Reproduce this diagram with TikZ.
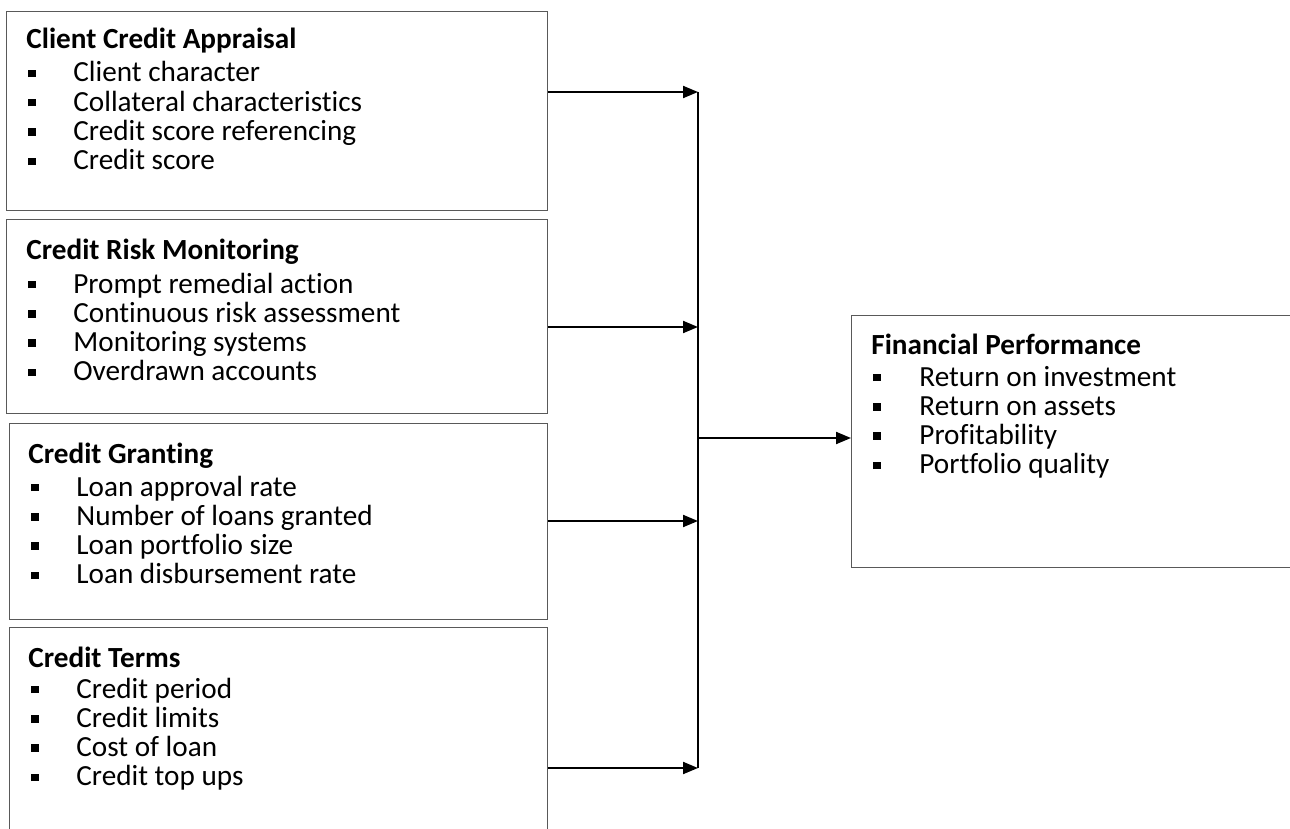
\documentclass[tikz,border=0pt]{standalone}
\usepackage{fontspec}
\setmainfont{Carlito}[Ligatures=NoCommon]
\usetikzlibrary{arrows.meta}
\newcommand\bul[1]{\makebox[#1][l]{\rule[2.4pt]{3.7pt}{3.7pt}}}
\begin{document}
\begin{tikzpicture}[x=0.5pt,y=-0.5pt,
  box/.style={draw=black!65, line width=0.6pt, rectangle, inner sep=0pt, anchor=north west},
  ttl/.style={anchor=base west, inner sep=0pt, font=\fontsize{14.6}{17}\selectfont\bfseries},
  itm/.style={anchor=base west, inner sep=0pt, font=\fontsize{14.6}{17}\selectfont},
  conn/.style={line width=1pt, black},
  arr/.style={conn, -{Triangle[length=7.5pt,width=6pt]}}]
\useasboundingbox (0,0) rectangle (1290,829);
\clip (0,0) rectangle (1290,829);
% boxes
\node[box, minimum width=270.5pt, minimum height=99.5pt] (b1) at (6,11) {};
\node[box, minimum width=270.5pt, minimum height=97pt] (b2) at (6,219) {};
\node[box, minimum width=269pt, minimum height=98pt] (b3) at (9,423) {};
\node[box, minimum width=269pt, minimum height=121.5pt] (b4) at (9,627) {};
\node[box, minimum width=239.5pt, minimum height=126pt] (fp) at (851,315) {};
% texts
\node[ttl] (t1) at (26,49) {Client Credit Appraisal};
\foreach \t [count=\i] in {Client character, Collateral characteristics, Credit score referencing, Credit score}
  \node[itm] (b1i\i) at (28,{82+29.3*(\i-1)}) {\bul{22.5pt}\t};
\node[ttl] (t2) at (26,259) {Credit Risk Monitoring};
\foreach \t [count=\i] in {Prompt remedial action, Continuous risk assessment, Monitoring systems, Overdrawn accounts}
  \node[itm] (b2i\i) at (28,{293+29.3*(\i-1)}) {\bul{22.5pt}\t};
\node[ttl] (t3) at (28,463) {Credit Granting};
\foreach \t [count=\i] in {Loan approval rate, Number of loans granted, Loan portfolio size, Loan disbursement rate}
  \node[itm] (b3i\i) at (31,{496+29.3*(\i-1)}) {\bul{22.5pt}\t};
\node[ttl] (t4) at (28,667) {Credit Terms};
\foreach \t [count=\i] in {Credit period, Credit limits, Cost of loan, Credit top ups}
  \node[itm] (b4i\i) at (31,{698+29.3*(\i-1)}) {\bul{22.5pt}\t};
\node[ttl] (t5) at (871,354) {Financial Performance};
\foreach \t [count=\i] in {Return on investment, Return on assets, Profitability, Portfolio quality}
  \node[itm] (fpi\i) at (873,{386+29.3*(\i-1)}) {\bul{23pt}\t};
% connectors
\coordinate (j1) at (698,92);
\coordinate (j2) at (698,327);
\coordinate (j3) at (698,521);
\coordinate (j4) at (698,768);
\coordinate (jm) at (698,438);
\draw[arr] (b1.east |- j1) -- (j1);
\draw[arr] (b2.east |- j2) -- (j2);
\draw[arr] (b3.east |- j3) -- (j3);
\draw[arr] (b4.east |- j4) -- (j4);
\draw[conn] (j1) -- (j4);
\draw[arr] (jm) -- (jm -| fp.west);
\end{tikzpicture}
\end{document}
